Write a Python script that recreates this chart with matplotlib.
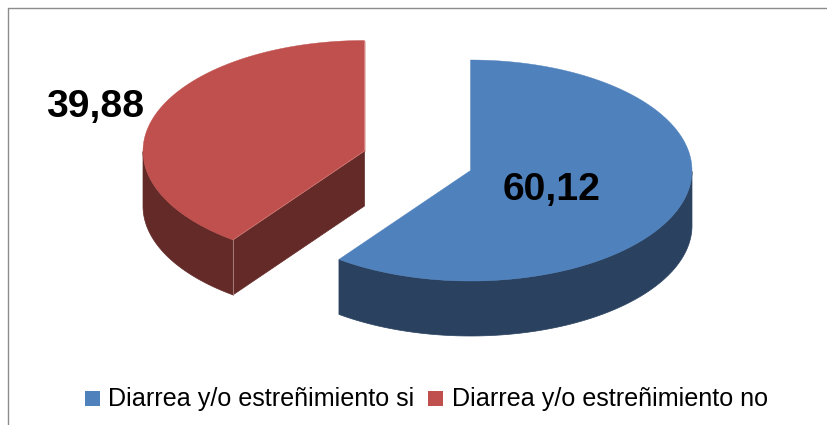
import numpy as np
import matplotlib
matplotlib.use("Agg")
import matplotlib.pyplot as plt
from matplotlib.patches import Polygon, Rectangle

categories = ["Diarrea y/o estreñimiento si", "Diarrea y/o estreñimiento no"]
values = [60.12, 39.88]
value_labels = ["60,12", "39,88"]

top_colors = ["#4F81BD", "#C0504D"]
side_colors = ["#2A4260", "#632A28"]

W, H = 827, 425
fig = plt.figure(figsize=(W / 100, H / 100), dpi=100)
ax = fig.add_axes([0, 0, 1, 1])
ax.set_xlim(0, W)
ax.set_ylim(H, 0)
ax.axis("off")

RX, RY, DEPTH = 221.5, 110.5, 55
centers = [(470.5, 170.5), (364.5, 151)]


def pt(c, a, dy=0):
    a = np.asarray(a)
    return np.column_stack([c[0] + RX * np.cos(a), c[1] - RY * np.sin(a) + dy])


total = sum(values)
a0 = np.pi / 2
spans = []
for v in values:
    a1 = a0 - 2 * np.pi * v / total
    spans.append((a0, a1))
    a0 = a1

for i, (c, (start, end)) in enumerate(zip(centers, spans)):
    arc = np.linspace(start, end, 300)
    s = (np.sin(arc) < 0)
    if np.sin(start) < 0:
        p = pt(c, [start])[0]
        ax.add_patch(Polygon([c, p, p + [0, DEPTH], (c[0], c[1] + DEPTH)],
                             closed=True, fc=side_colors[i], ec=side_colors[i], lw=0.5, zorder=2))
    if s.any():
        front = arc[s]
        poly = np.vstack([pt(c, front), pt(c, front[::-1], DEPTH)])
        ax.add_patch(Polygon(poly, closed=True, fc=side_colors[i], ec=side_colors[i], lw=0.5, zorder=2))
    top = np.vstack([[c], pt(c, arc)])
    ax.add_patch(Polygon(top, closed=True, fc=top_colors[i], ec=top_colors[i], lw=0.3, zorder=3))

# pale seam lines of the red slice
c = centers[1]
p = pt(c, [spans[1][0]])[0]
ax.plot([p[0], p[0]], [p[1], p[1] + DEPTH], color="#B08A88", lw=0.6, zorder=4)
ax.plot([c[0], c[0]], [c[1] - RY, c[1]], color="#E0A8A6", lw=0.5, zorder=4)
ax.plot([p[0], c[0]], [p[1], c[1]], color="#D98A87", lw=0.4, zorder=4)

# frame (only top and left are inside the picture)
ax.plot([W, 7.5, 7.5], [7.5, 7.5, H], color="#8C8C8C", lw=1.0, zorder=1)

font = "Liberation Sans"
ax.text(551.5, 190, value_labels[0], family=font, weight="bold", fontsize=28.2,
        ha="center", va="center", color="black", zorder=5)
ax.text(95, 107, value_labels[1], family=font, weight="bold", fontsize=28.2,
        ha="center", va="center", color="black", zorder=5)

for x0, xt, col, lab in zip([84.5, 428], [108, 452], top_colors, categories):
    ax.add_patch(Rectangle((x0, 391), 15, 15, fc=col, ec="none", zorder=5))
    ax.text(xt, 399, lab, family=font, fontsize=18.1, ha="left", va="center",
            color="black", zorder=5)

fig.savefig("out.png", dpi=100)
